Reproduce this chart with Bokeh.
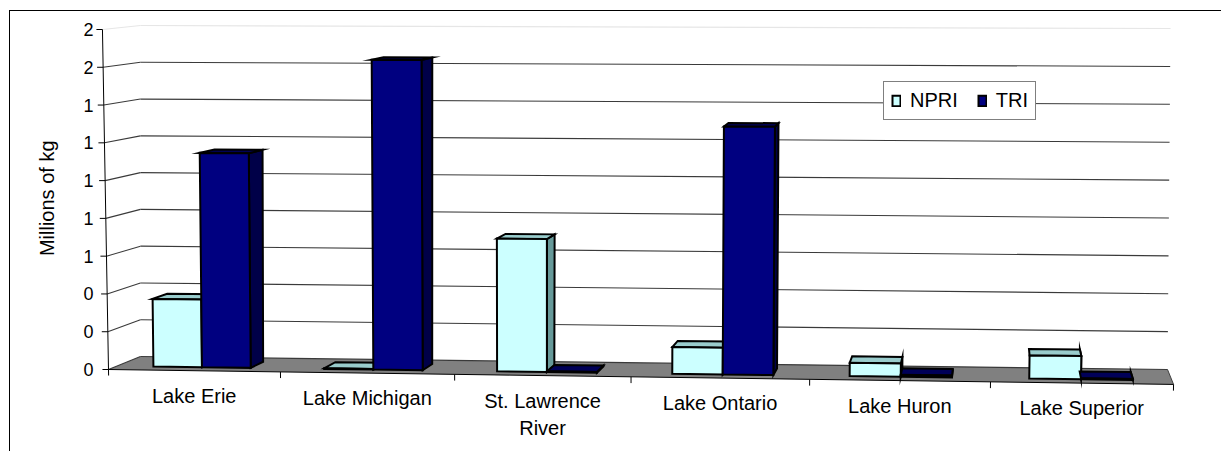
from bokeh.plotting import figure
from bokeh.models import Range1d, FixedTicker, Legend, LegendItem, Title
from bokeh.embed import file_html
from bokeh.resources import INLINE
from bokeh.core.properties import value

# ---- data (millions of kg) ----
categories = ["Lake Erie", "Lake Michigan", "St. Lawrence\nRiver",
              "Lake Ontario", "Lake Huron", "Lake Superior"]
series = ["NPRI", "TRI"]
npri = [0.36, 0.003, 0.70, 0.14, 0.07, 0.12]
tri = [1.14, 1.64, 0.004, 1.30, 0.01, 0.005]
y_ticks = [0.0, 0.2, 0.4, 0.6, 0.8, 1.0, 1.2, 1.4, 1.6, 1.8]
y_tick_labels = ["0", "0", "0", "1", "1", "1", "1", "1", "2", "2"]

FONT = "Liberation Sans"
N = len(categories)
VMAX = y_ticks[-1]

# Corners of the 3-D plot box, (category, value, depth) in {0,1}^3 -> (x, y)
# in axis units: x in category widths, y in millions of kg on the front plane.
CORNERS = {
    (0, 0, 0): (0.0, 0.0),
    (1, 0, 0): (6.0, -0.079),
    (0, 1, 0): (-0.034, 1.8),
    (1, 1, 0): (6.04, 1.773),
    (0, 0, 1): (0.180, 0.069),
    (1, 0, 1): (5.966, 0.0),
    (0, 1, 1): (0.180, 1.821),
    (1, 1, 1): (5.983, 1.805),
}
BOW = -0.00625          # perspective bow of the category axis


def proj(c, v, d):
    """Project a point of the 3-D box (category, value, depth) onto the page."""
    u, w = c / N, v / VMAX
    x = y = 0.0
    for (i, j, k), (cx, cy) in CORNERS.items():
        wt = (u if i else 1 - u) * (w if j else 1 - w) * (d if k else 1 - d)
        x += wt * cx
        y += wt * cy
    x += BOW * c * (N - c)
    return x, y


def poly(points):
    xs, ys = zip(*[proj(*p) for p in points])
    return list(xs), list(ys)


# ---- figure: x in category widths, y in millions of kg ----
p = figure(width=1212, height=441, output_backend="svg", toolbar_location=None,
           x_axis_type=None, x_range=Range1d(-0.0732, 6.2757),
           y_range=Range1d(-0.4394, 1.8953),
           min_border_left=84, min_border_right=0, min_border_top=0,
           min_border_bottom=0)
p.outline_line_color = None
p.grid.visible = False
p.background_fill_color = "white"
p.border_fill_color = "white"
# chart-area border (open to the right and bottom)
p.styles = {"margin-left": "9px", "margin-top": "10px",
            "border-left": "1px solid black", "border-top": "1px solid black"}

# value axis: labels only, the slanted axis line is drawn with the box
ax = p.yaxis[0]
ax.ticker = FixedTicker(ticks=y_ticks)
ax.major_label_overrides = {t: s for t, s in zip(y_ticks, y_tick_labels)}
ax.bounds = (0, VMAX)
ax.axis_line_color = None
ax.major_tick_line_color = None
ax.minor_tick_line_color = None
ax.major_tick_out = 0
ax.major_tick_in = 0
ax.major_label_standoff = 2
ax.major_label_text_font = FONT
ax.major_label_text_font_size = "18px"
ax.major_label_text_color = "black"

# value-axis title, centred on the value scale rather than on the frame
p.add_layout(Title(text="Millions of kg", align="right", vertical_align="bottom",
                   offset=129, standoff=46, text_font=FONT,
                   text_font_size="20px", text_font_style="normal",
                   text_color="black"), "left")

# floor
fx, fy = poly([(0, 0, 0), (N, 0, 0), (N, 0, 1), (0, 0, 1)])
p.patch(fx, fy, fill_color="#808080", line_color=None)

# gridlines on the back wall and the left wall
for v in y_ticks:
    col = "#e6e6e6" if v == VMAX else "#3a3a3a"
    bx, by = poly([(0, v, 1), (N, v, 1)])
    p.line(bx, by, line_color=col, line_width=1.1)
    lx, ly = poly([(0, v, 0), (0, v, 1)])
    p.line(lx, ly, line_color=col, line_width=1.1)
    x0, y0 = proj(0, v, 0)
    p.line([x0 - 0.034, x0], [y0, y0], line_color="black", line_width=1)

# front value axis line
ax_x, ax_y = poly([(0, 0, 0), (0, VMAX, 0)])
p.line(ax_x, ax_y, line_color="black", line_width=1)

# category axis along the front edge of the floor, with ticks
ex, ey = poly([(0, 0, 0), (N, 0, 0)])
p.line(ex, ey, line_color="black", line_width=1)
rx, ry = poly([(N, 0, 0), (N, 0, 1)])
p.line(rx, ry, line_color="#404040", line_width=1)
for k in range(N + 1):
    tx, ty = poly([(k, 0, 0), (k, -0.032, 0)])
    p.line(tx, ty, line_color="black", line_width=1)

# category labels
lab_x, lab_y = [], []
for i in range(N):
    x, y = proj(i + 0.5, 0, 0)
    lab_x.append(x)
    lab_y.append(y)
p.text(lab_x, lab_y, text=categories, text_font=value(FONT),
       text_font_size="20px", text_align="center", text_baseline="top",
       text_color="black", y_offset=14, text_line_height=1.22)

# 3-D columns: gap width 150 %, drawn left to right as side, top, front faces
face_colors = {
    "NPRI": {"front": "#ccffff", "top": "#99cccc", "side": "#669999"},
    "TRI": {"front": "#000080", "top": "#000058", "side": "#000048"},
}
bar_w = 1 / 3.5
gap = 0.75 / 3.5
d0, d1 = 0.27, 0.73

xs, ys, fills = [], [], []
front_index = {}
for i in range(N):
    for s, (name, vals) in enumerate(zip(series, [npri, tri])):
        v = vals[i]
        c0 = i + gap + s * bar_w
        c1 = c0 + bar_w
        faces = [
            ("side", [(c1, 0, d0), (c1, 0, d1), (c1, v, d1), (c1, v, d0)]),
            ("top", [(c0, v, d0), (c1, v, d0), (c1, v, d1), (c0, v, d1)]),
            ("front", [(c0, 0, d0), (c1, 0, d0), (c1, v, d0), (c0, v, d0)]),
        ]
        for face, pts in faces:
            px_, py_ = poly(pts)
            if face == "front" and name not in front_index:
                front_index[name] = len(xs)
            xs.append(px_)
            ys.append(py_)
            fills.append(face_colors[name][face])

bars = p.patches(xs, ys, fill_color=fills, line_color="black", line_width=2,
                 line_join="miter")

legend = Legend(items=[LegendItem(label=name, renderers=[bars], index=front_index[name])
                       for name in series],
                location=(788, 332), orientation="horizontal",
                glyph_width=10, glyph_height=13, label_standoff=9, spacing=19,
                padding=7, margin=0,
                label_text_font=FONT, label_text_font_size="20px",
                label_text_color="black",
                border_line_color="black", border_line_width=1,
                background_fill_color="white", background_fill_alpha=1)
p.add_layout(legend)

open("out.html", "w").write(file_html(p, INLINE))
